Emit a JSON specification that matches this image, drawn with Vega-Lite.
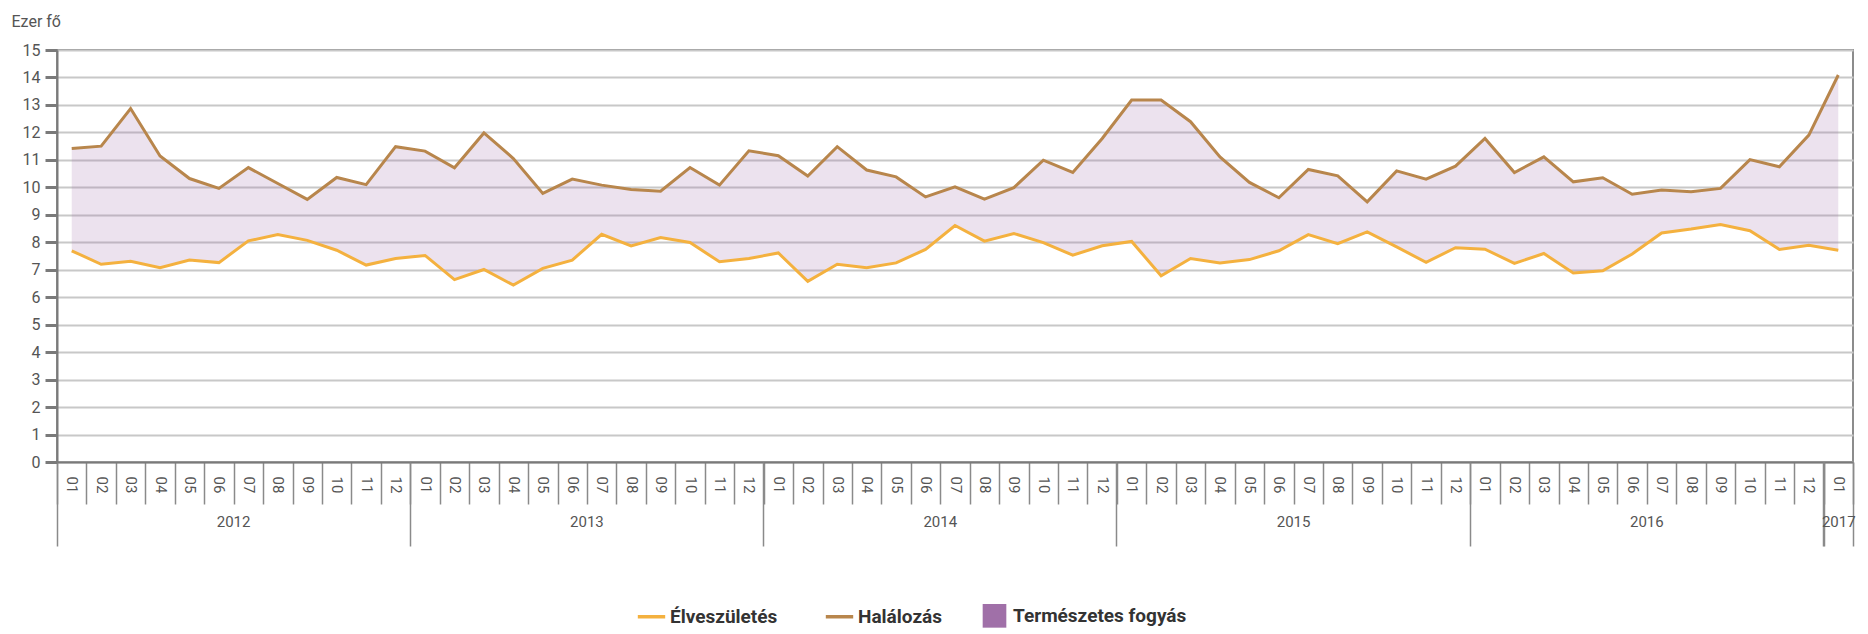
{
  "$schema": "https://vega.github.io/schema/vega-lite/v6.json",
  "width": 1796,
  "height": 412,
  "autosize": {"type": "none"},
  "padding": {"left": 57, "top": 50, "right": 15, "bottom": 172},
  "background": "white",
  "config": {
    "font": "Roboto, sans-serif",
    "view": {"stroke": "#8c8c8c", "strokeWidth": 2},
    "axis": {"labelColor": "#555"}
  },
  "data": {
    "values": [
      {"t": "2012-01", "ev": 7.69, "hal": 11.41},
      {"t": "2012-02", "ev": 7.20, "hal": 11.50},
      {"t": "2012-03", "ev": 7.31, "hal": 12.87},
      {"t": "2012-04", "ev": 7.07, "hal": 11.14},
      {"t": "2012-05", "ev": 7.35, "hal": 10.32},
      {"t": "2012-06", "ev": 7.26, "hal": 9.96},
      {"t": "2012-07", "ev": 8.05, "hal": 10.72},
      {"t": "2012-08", "ev": 8.28, "hal": 10.14},
      {"t": "2012-09", "ev": 8.07, "hal": 9.56},
      {"t": "2012-10", "ev": 7.71, "hal": 10.36},
      {"t": "2012-11", "ev": 7.17, "hal": 10.10},
      {"t": "2012-12", "ev": 7.41, "hal": 11.48},
      {"t": "2013-01", "ev": 7.52, "hal": 11.32},
      {"t": "2013-02", "ev": 6.64, "hal": 10.71},
      {"t": "2013-03", "ev": 7.01, "hal": 11.98},
      {"t": "2013-04", "ev": 6.44, "hal": 11.05},
      {"t": "2013-05", "ev": 7.05, "hal": 9.78},
      {"t": "2013-06", "ev": 7.35, "hal": 10.30},
      {"t": "2013-07", "ev": 8.29, "hal": 10.08},
      {"t": "2013-08", "ev": 7.87, "hal": 9.92},
      {"t": "2013-09", "ev": 8.17, "hal": 9.86},
      {"t": "2013-10", "ev": 7.99, "hal": 10.72},
      {"t": "2013-11", "ev": 7.29, "hal": 10.08},
      {"t": "2013-12", "ev": 7.41, "hal": 11.33},
      {"t": "2014-01", "ev": 7.61, "hal": 11.15},
      {"t": "2014-02", "ev": 6.58, "hal": 10.41},
      {"t": "2014-03", "ev": 7.20, "hal": 11.48},
      {"t": "2014-04", "ev": 7.07, "hal": 10.63},
      {"t": "2014-05", "ev": 7.25, "hal": 10.38},
      {"t": "2014-06", "ev": 7.74, "hal": 9.65},
      {"t": "2014-07", "ev": 8.61, "hal": 10.02},
      {"t": "2014-08", "ev": 8.04, "hal": 9.57},
      {"t": "2014-09", "ev": 8.32, "hal": 9.99},
      {"t": "2014-10", "ev": 7.99, "hal": 10.99},
      {"t": "2014-11", "ev": 7.53, "hal": 10.54},
      {"t": "2014-12", "ev": 7.87, "hal": 11.78},
      {"t": "2015-01", "ev": 8.03, "hal": 13.18},
      {"t": "2015-02", "ev": 6.78, "hal": 13.18},
      {"t": "2015-03", "ev": 7.41, "hal": 12.39},
      {"t": "2015-04", "ev": 7.25, "hal": 11.11},
      {"t": "2015-05", "ev": 7.37, "hal": 10.18},
      {"t": "2015-06", "ev": 7.69, "hal": 9.62},
      {"t": "2015-07", "ev": 8.28, "hal": 10.65},
      {"t": "2015-08", "ev": 7.95, "hal": 10.42},
      {"t": "2015-09", "ev": 8.38, "hal": 9.47},
      {"t": "2015-10", "ev": 7.83, "hal": 10.60},
      {"t": "2015-11", "ev": 7.27, "hal": 10.30},
      {"t": "2015-12", "ev": 7.80, "hal": 10.77},
      {"t": "2016-01", "ev": 7.75, "hal": 11.78},
      {"t": "2016-02", "ev": 7.23, "hal": 10.54},
      {"t": "2016-03", "ev": 7.59, "hal": 11.11},
      {"t": "2016-04", "ev": 6.88, "hal": 10.20},
      {"t": "2016-05", "ev": 6.96, "hal": 10.35},
      {"t": "2016-06", "ev": 7.57, "hal": 9.75},
      {"t": "2016-07", "ev": 8.34, "hal": 9.90},
      {"t": "2016-08", "ev": 8.48, "hal": 9.84},
      {"t": "2016-09", "ev": 8.65, "hal": 9.96},
      {"t": "2016-10", "ev": 8.42, "hal": 11.01},
      {"t": "2016-11", "ev": 7.74, "hal": 10.75},
      {"t": "2016-12", "ev": 7.89, "hal": 11.90},
      {"t": "2017-01", "ev": 7.71, "hal": 14.09}
    ]
  },
  "resolve": {"axis": {"x": "independent"}},
  "layer": [
    {
      "mark": {"type": "area", "opacity": 0.2},
      "encoding": {
        "x": {
          "field": "t", "type": "ordinal", "bandPosition": 0.5,
          "scale": {"type": "band", "paddingInner": 0, "paddingOuter": 0},
          "axis": {
            "orient": "bottom", "title": null, "labelAngle": 90, "labelAlign": "left", "labelBaseline": "middle",
            "labelExpr": "datum.value ? slice(datum.value, 5) : ''", "tickBand": "extent", "tickSize": 42, "tickColor": "#8a8a8a", "tickWidth": 1.5,
            "labelPadding": -28, "labelFontSize": 15, "domainColor": "#7a7a7a", "domainWidth": 2, "grid": false, "labelOverlap": false
          }
        },
        "y": {
          "field": "hal", "type": "quantitative",
          "scale": {"domain": [0, 15], "nice": false},
          "axis": {
            "title": "Ezer fő", "titleAngle": 0, "titleAlign": "left", "titleBaseline": "alphabetic", "titleX": -46, "titleY": -24,
            "titleFontSize": 16, "titleFontWeight": "normal", "titleColor": "#555",
            "tickCount": 15, "labelFontSize": 16, "labelPadding": 5,
            "tickSize": 12, "tickWidth": 3, "tickColor": "#7a7a7a", "domainColor": "#7a7a7a", "domainWidth": 2,
            "gridColor": "#c8c8c8", "gridWidth": 2
          }
        },
        "y2": {"field": "ev"},
        "color": {
          "datum": "Természetes fogyás",
          "scale": {"domain": ["Élveszületés", "Halálozás", "Természetes fogyás"], "range": ["#F4B13F", "#B8864C", "#A070A8"]},
          "legend": {
            "title": null, "orient": "none", "legendX": 585, "legendY": 556, "direction": "horizontal",
            "labelFontSize": 19, "labelFontWeight": "bold", "labelColor": "#333", "labelLimit": 400, "columnPadding": 40, "labelOffset": 9,
            "symbolSize": 750, "symbolStrokeWidth": 3.5,
            "encoding": {
              "symbols": {
                "shape": {"value": {"expr": "datum.value === 'Természetes fogyás' ? 'square' : 'stroke'"}},
                "size": {"value": {"expr": "datum.value === 'Természetes fogyás' ? 560 : 750"}},
                "fill": {"value": {"expr": "scale('color', datum.value)"}},
                "stroke": {"value": {"expr": "scale('color', datum.value)"}},
                "strokeWidth": {"value": {"expr": "datum.value === 'Természetes fogyás' ? 0 : 3.5"}},
                "opacity": {"value": 1},
                "fillOpacity": {"value": 1},
                "strokeOpacity": {"value": 1}
              }
            }
          }
        }
      }
    },
    {
      "mark": {"type": "line", "strokeWidth": 3},
      "encoding": {
        "x": {
          "field": "t", "type": "ordinal", "bandPosition": 0.5,
          "axis": {
            "orient": "bottom", "title": null, "values": ["2012-01", "2013-01", "2014-01", "2015-01", "2016-01", "2017-01"],
            "bandPosition": 0, "tickSize": 84, "tickColor": "#8a8a8a", "tickWidth": 1.5, "labelOffset": 161.9,
            "labelExpr": "datum.value && datum.value != '2017-01' ? slice(datum.value, 0, 4) : ''", "labelAngle": 0, "labelAlign": "center", "labelBaseline": "top",
            "labelPadding": -32, "labelFontSize": 15, "domain": false, "grid": false, "labelOverlap": false
          }
        },
        "y": {"field": "ev", "type": "quantitative"},
        "color": {"datum": "Élveszületés"}
      }
    },
    {
      "mark": {"type": "line", "strokeWidth": 3},
      "encoding": {
        "x": {
          "field": "t", "type": "ordinal", "bandPosition": 0.5,
          "axis": {
            "orient": "bottom", "title": null, "values": ["2017-01"],
            "tickBand": "extent", "tickSize": 84, "tickColor": "#8a8a8a", "tickWidth": 1.5,
            "labelExpr": "datum.value ? slice(datum.value, 0, 4) : ''", "labelAngle": 0, "labelAlign": "center", "labelBaseline": "top",
            "labelPadding": -32, "labelFontSize": 15, "domain": false, "grid": false, "labelOverlap": false
          }
        },
        "y": {"field": "hal", "type": "quantitative"},
        "color": {"datum": "Halálozás"}
      }
    }
  ]
}
